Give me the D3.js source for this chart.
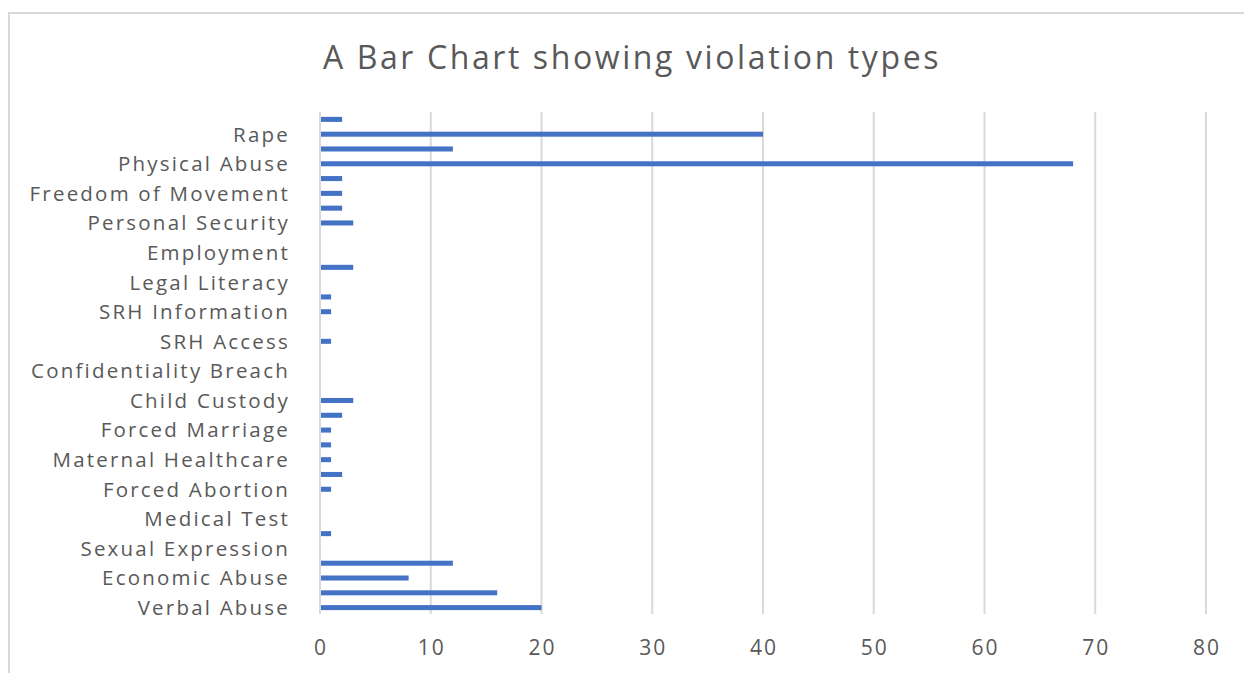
<!DOCTYPE html>
<html>
<head>
<meta charset="utf-8">
<script src="https://cdn.jsdelivr.net/npm/d3@7"></script>
<style>
  body { margin: 0; background: #fff; }
  text { font-family: "Open Sans", Lato, sans-serif; fill: #595959; }
</style>
</head>
<body>
<div id="chart"></div>
<script>
// categories top to bottom; Excel only printed every other label
var categories = [
	"", "Rape", "", "Physical Abuse", "", "Freedom of Movement", "", "Personal Security",
	"", "Employment", "", "Legal Literacy", "", "SRH Information", "", "SRH Access",
	"", "Confidentiality Breach", "", "Child Custody", "", "Forced Marriage", "", "Maternal Healthcare",
	"", "Forced Abortion", "", "Medical Test", "", "Sexual Expression", "", "Economic Abuse",
	"", "Verbal Abuse"
];
var values = [
	2, 40, 12, 68, 2, 2, 2, 3,
	0, 0, 3, 0, 1, 1, 0, 1,
	0, 0, 0, 3, 2, 1, 1, 1,
	2, 1, 0, 0, 1, 0, 12, 8,
	16, 20
];
var xTicks = [0, 10, 20, 30, 40, 50, 60, 70, 80];
var title = "A Bar Chart showing violation types";

var width = 1244, height = 673;

var svg = d3.select("#chart").append("svg")
	.attr("width", width)
	.attr("height", height);

// chart frame (only top and left edges are visible in the crop)
svg.append("path")
	.attr("d", "M9,673 V13 H1244")
	.attr("fill", "none")
	.attr("stroke", "#d9d9d9")
	.attr("stroke-width", 2);

svg.append("text")
	.attr("x", 632)
	.attr("y", 69)
	.attr("text-anchor", "middle")
	.attr("font-size", 32)
	.attr("letter-spacing", 2.6)
	.text(title);

var xScale = d3.scaleLinear()
	.domain([0, 80])
	.range([320, 1206]);

var yScale = d3.scaleBand()
	.domain(d3.range(categories.length))
	.range([112, 615])
	.paddingInner(0.66)
	.paddingOuter(0.33);

// vertical gridlines
svg.append("g").selectAll("line")
	.data(xTicks)
	.enter()
	.append("line")
	.attr("x1", d => xScale(d))
	.attr("x2", d => xScale(d))
	.attr("y1", 112)
	.attr("y2", 614)
	.attr("stroke", "#d9d9d9")
	.attr("stroke-width", 2);

svg.append("g").selectAll("rect")
	.data(values)
	.enter()
	.append("rect")
	.attr("x", xScale(0) + 1)
	.attr("y", (d, i) => yScale(i))
	.attr("width", d => Math.max(0, xScale(d) - xScale(0) - 1))
	.attr("height", yScale.bandwidth())
	.attr("fill", "#4472c4");

// category labels
svg.append("g").selectAll("text")
	.data(categories)
	.enter()
	.append("text")
	.attr("x", 290)
	.attr("y", (d, i) => yScale(i) + yScale.bandwidth() / 2)
	.attr("dy", "0.36em")
	.attr("text-anchor", "end")
	.attr("font-size", 20.5)
	.attr("letter-spacing", 2.2)
	.text(d => d);

// x tick labels
svg.append("g").selectAll("text")
	.data(xTicks)
	.enter()
	.append("text")
	.attr("x", d => xScale(d) + 1)
	.attr("y", 655)
	.attr("text-anchor", "middle")
	.attr("font-size", 21)
	.attr("letter-spacing", 2)
	.text(d => d);
</script>
</body>
</html>
